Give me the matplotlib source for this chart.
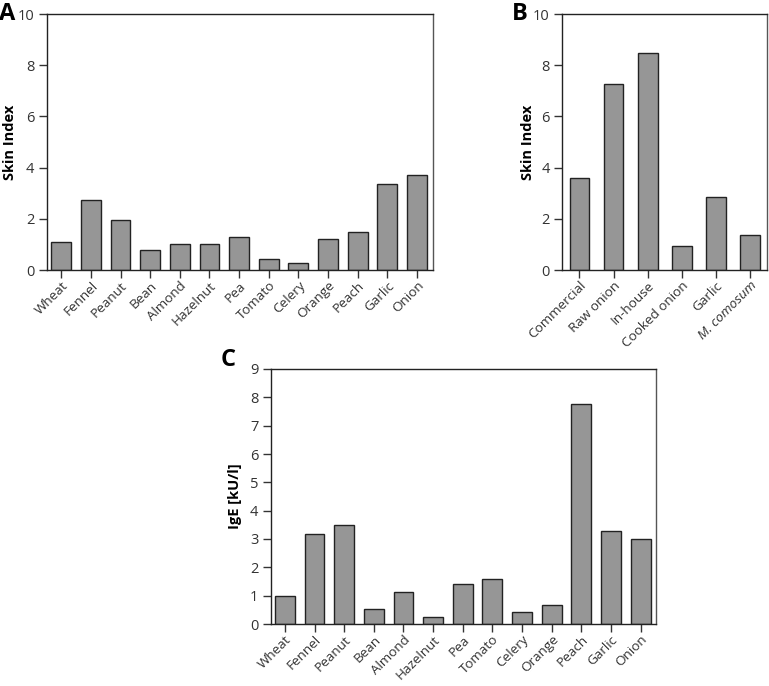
import numpy as np
import matplotlib.pyplot as plt

plt.rcParams['font.family'] = ['Open Sans', 'DejaVu Sans']

# panel A: skin index per food
foods_a = ["Wheat", "Fennel", "Peanut", "Bean", "Almond", "Hazelnut", "Pea",
           "Tomato", "Celery", "Orange", "Peach", "Garlic", "Onion"]
skin_a = [1.11, 2.75, 1.94, 0.78, 1.02, 1.02, 1.28, 0.43, 0.27, 1.21, 1.47, 3.36, 3.71]

# panel B: skin index per extract
extracts_b = ["Commercial", "Raw onion", "In-house", "Cooked onion", "Garlic", "M. comosum"]
skin_b = [3.60, 7.26, 8.46, 0.94, 2.86, 1.37]

# panel C: IgE per food
foods_c = foods_a
ige_c = [1.00, 3.17, 3.50, 0.53, 1.14, 0.26, 1.40, 1.58, 0.41, 0.67, 7.75, 3.28, 2.99]

W, H = 769, 686
fig = plt.figure(figsize=(W / 100, H / 100), dpi=100)

bar_color = "#969696"
edge_color = "#222222"
tick_color = "#333333"


def px_axes(x0, y0, x1, y1):
    return fig.add_axes([x0 / W, 1 - y1 / H, (x1 - x0) / W, (y1 - y0) / H])


def style(ax, labels, values, width, ylim, yticks, ylabel, xpad_l, xpad_r, label_x):
    x = np.arange(len(labels))
    ax.bar(x, values, width=width, color=bar_color, edgecolor=edge_color, linewidth=1.0)
    ax.set_xlim(-xpad_l, len(labels) - 1 + xpad_r)
    ax.set_ylim(*ylim)
    ax.set_yticks(yticks)
    ax.set_xticks(x)
    ax.set_xticklabels(labels, rotation=45, ha="right", rotation_mode="anchor",
                       fontsize=9.7)
    ax.tick_params(axis="both", direction="out", length=5.5, width=1,
                   colors=tick_color, labelcolor=tick_color)
    ax.tick_params(axis="y", labelsize=10.5)
    ax.tick_params(axis="x", pad=1)
    for s in ax.spines.values():
        s.set_linewidth(1.0)
        s.set_color("#222222")
    ax.spines["right"].set_color("#555555")
    ax.set_ylabel(ylabel, fontsize=10.5, fontweight="bold")
    ax.yaxis.set_label_coords(label_x, 0.5)


ax_a = px_axes(47, 14, 433, 270)
style(ax_a, foods_a, skin_a, 0.67, (0, 10), [0, 2, 4, 6, 8, 10], "Skin Index", 0.48, 0.54, -0.078)

ax_b = px_axes(562, 14, 767, 270)
style(ax_b, extracts_b, skin_b, 0.58, (0, 10), [0, 2, 4, 6, 8, 10], "Skin Index", 0.51, 0.5, -0.132)
ax_b.get_xticklabels()[-1].set_fontstyle("italic")

ax_c = px_axes(271, 369, 656, 624)
style(ax_c, foods_c, ige_c, 0.67, (0, 9), list(range(10)), "IgE [kU/l]", 0.47, 0.52, -0.075)

for lbl, (px, py) in zip("ABC", [(7, 14), (520, 14), (228, 360)]):
    fig.text(px / W, 1 - py / H, lbl, fontsize=17, fontweight="bold",
             ha="center", va="center")

fig.savefig("out.png", dpi=100)
